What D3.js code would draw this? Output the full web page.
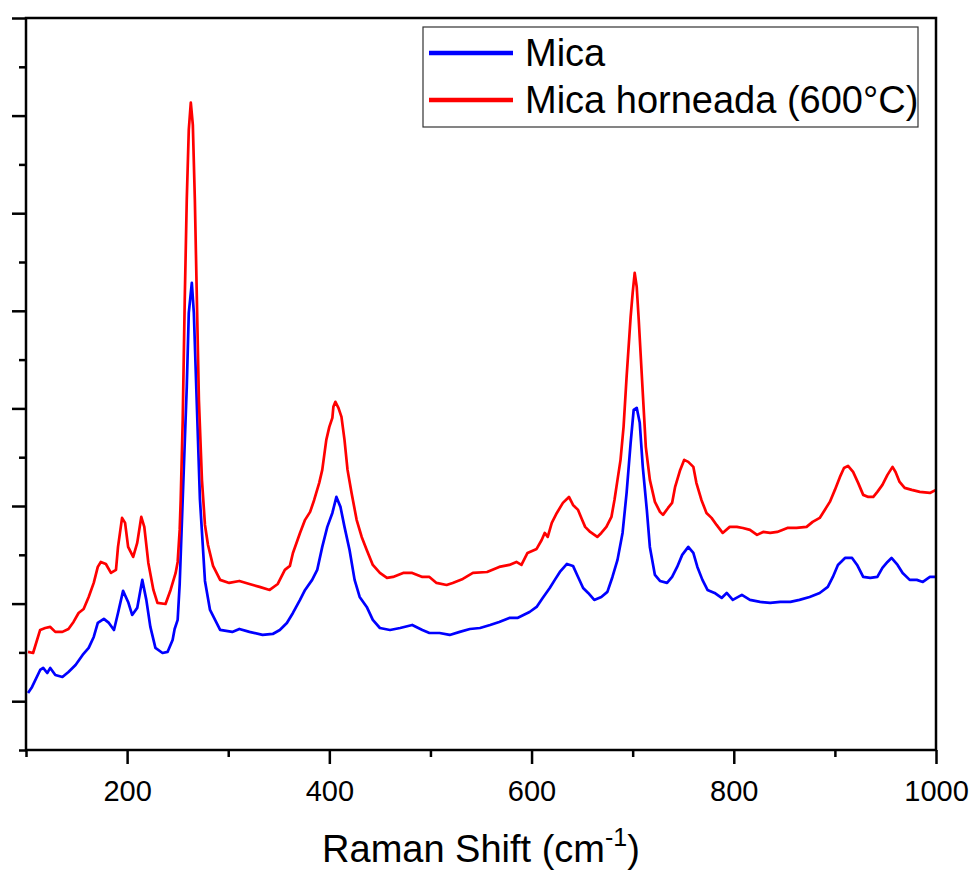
<!DOCTYPE html>
<html>
<head>
<meta charset="utf-8">
<script src="https://cdn.jsdelivr.net/npm/d3@7"></script>
<style>
  body { margin: 0; background: #fff; }
  text { font-family: "Liberation Sans", Arial, sans-serif; }
</style>
</head>
<body>
<div id="chart"></div>
<script>
// Raman spectra (intensity in arbitrary units)
const micaShift = [102,106,114,117,121,124,129,136,142,149,156,162,167,171,177,182,187,191,196,201,205,210,215,219,223,228,235,240,245,247,250,252,255,259,261,264,266,269,272,277,282,292,304,311,321,334,344,351,358,364,371,376,383,388,393,398,403,407,411,415,420,425,430,437,443,450,460,470,482,492,499,509,519,529,539,549,559,568,578,586,598,605,611,618,623,628,635,641,646,651,656,662,669,675,680,685,690,694,698,701,704,707,710,714,717,722,727,734,739,744,749,755,760,764,769,774,781,788,793,799,808,816,826,836,846,856,865,875,885,893,898,903,910,917,922,928,935,942,947,952,956,962,967,974,981,987,994,1000];
const micaIntensity = [84,146,320,341,289,341,269,248,300,371,474,546,658,802,843,802,730,904,1130,1017,884,956,1243,1038,761,546,494,505,628,740,833,1202,2073,3221,3979,4287,3979,3026,2073,1232,935,730,710,740,710,679,689,730,802,904,1038,1140,1243,1345,1581,1786,1929,2093,1991,1786,1550,1243,1068,966,833,750,730,750,781,730,699,699,679,710,740,750,781,812,853,853,914,966,1058,1160,1243,1324,1406,1386,1273,1160,1109,1038,1068,1120,1273,1448,1724,2134,2647,2985,3006,2852,2401,1960,1581,1294,1232,1212,1273,1376,1499,1581,1519,1376,1243,1140,1109,1058,1109,1038,1089,1038,1017,1007,1017,1017,1038,1068,1109,1171,1273,1396,1468,1468,1396,1273,1263,1273,1366,1427,1468,1396,1314,1243,1243,1222,1273,1273];

const bakedShift = [102,107,114,119,124,129,136,142,147,152,157,162,167,171,174,179,184,189,191,195,198,201,206,210,214,217,221,226,230,238,243,248,250,252,253,255,257,259,261,263,265,267,269,271,274,277,280,285,292,301,311,321,331,341,349,356,361,364,371,376,381,385,390,393,397,400,403,404,406,409,412,415,418,422,427,432,437,443,450,457,463,473,482,492,499,506,516,522,532,542,556,568,578,585,590,596,605,610,613,616,620,625,631,637,641,646,650,653,658,665,669,674,679,682,685,688,691,694,698,700,702,704,706,710,713,717,722,727,730,735,739,742,747,751,755,760,763,768,773,778,783,789,796,803,809,816,823,829,836,843,853,862,872,878,885,890,895,900,905,909,913,918,923,928,933,938,942,947,952,957,960,964,969,976,984,994,1000];
const bakedIntensity = [505,494,730,750,761,710,710,740,812,904,945,1068,1212,1376,1427,1406,1314,1345,1581,1878,1827,1581,1478,1622,1888,1786,1417,1140,1007,996,1140,1314,1427,1755,2062,2883,4112,5138,5855,6132,5906,5138,4112,3088,2268,1806,1601,1386,1243,1212,1232,1201,1171,1140,1201,1345,1386,1519,1724,1858,1940,2062,2237,2370,2678,2811,2903,3016,3067,3006,2913,2678,2370,2134,1858,1683,1550,1396,1314,1263,1273,1314,1314,1273,1273,1212,1191,1212,1253,1314,1324,1376,1396,1427,1396,1519,1560,1652,1724,1683,1827,1929,2032,2093,2011,1960,1858,1786,1734,1683,1724,1786,1888,2062,2268,2473,2811,3323,3938,4184,4389,4246,3908,3159,2606,2268,2042,1940,1909,1980,2032,2196,2370,2473,2452,2401,2237,2062,1929,1878,1806,1724,1786,1786,1775,1755,1704,1734,1724,1734,1775,1775,1786,1837,1878,1960,2042,2165,2298,2390,2411,2349,2237,2114,2093,2093,2145,2216,2319,2401,2349,2247,2186,2165,2145,2134,2165];

const xMajorTicks = [200, 400, 600, 800, 1000];
const xMinorTicks = [100, 300, 500, 700, 900];
const yMajorTicks = [0, 1000, 2000, 3000, 4000, 5000, 6000, 7000];
const yMinorTicks = [-500, 500, 1500, 2500, 3500, 4500, 5500, 6500];
const seriesNames = ["Mica", "Mica horneada (600°C)"];
const seriesColors = ["#0000ff", "#ff0000"];

const series = [
  {name: seriesNames[0], color: seriesColors[0], values: micaShift.map((s, i) => ({x: s, y: micaIntensity[i]}))},
  {name: seriesNames[1], color: seriesColors[1], values: bakedShift.map((s, i) => ({x: s, y: bakedIntensity[i]}))}
];

// set the dimensions and margins of the graph
const margin = {top: 18, right: 40, bottom: 124, left: 26},
    width = 976 - margin.left - margin.right,
    height = 874 - margin.top - margin.bottom;

const svg = d3.select("#chart")
  .append("svg")
    .attr("width", 976)
    .attr("height", 874)
  .append("g")
    .attr("transform", `translate(${margin.left},${margin.top})`);

const x = d3.scaleLinear().domain([100, 1000]).range([0, width]);
const y = d3.scaleLinear().domain([-500, 7000]).range([height, 0]);

// spectra
const line = d3.line().x(d => x(d.x)).y(d => y(d.y));
svg.selectAll(".spec")
  .data(series)
  .join("path")
    .attr("class", "spec")
    .attr("fill", "none")
    .attr("stroke", d => d.color)
    .attr("stroke-width", 2.7)
    .attr("stroke-linejoin", "round")
    .attr("d", d => line(d.values));

// axes: major + minor ticks, no y labels
const xAxis = svg.append("g")
  .attr("transform", `translate(0,${height})`)
  .call(d3.axisBottom(x).tickValues(xMajorTicks).tickSize(14).tickPadding(16).tickFormat(d3.format("d")));
xAxis.selectAll("text").attr("font-size", 29).attr("fill", "#000");
svg.append("g")
  .attr("transform", `translate(0,${height})`)
  .call(d3.axisBottom(x).tickValues(xMinorTicks).tickSize(7).tickFormat(""));

svg.append("g")
  .call(d3.axisLeft(y).tickValues(yMajorTicks).tickSize(14).tickFormat(""));
svg.append("g")
  .call(d3.axisLeft(y).tickValues(yMinorTicks).tickSize(7).tickFormat(""));

svg.selectAll(".domain").remove();
svg.selectAll(".tick line").attr("stroke", "#000").attr("stroke-width", 2.5);

// frame
svg.append("rect")
  .attr("width", width)
  .attr("height", height)
  .attr("fill", "none")
  .attr("stroke", "#000")
  .attr("stroke-width", 2.5);

// x title
const title = svg.append("text")
  .attr("x", width / 2)
  .attr("y", 844)
  .attr("text-anchor", "middle")
  .attr("font-size", 38)
  .attr("fill", "#000");
title.append("tspan").text("Raman Shift (cm");
title.append("tspan").attr("font-size", 25).attr("dy", -16).text("-1");
title.append("tspan").attr("dy", 16).text(")");

// legend
const legend = svg.append("g").attr("transform", "translate(397,9)");
legend.append("rect")
  .attr("width", 495)
  .attr("height", 100)
  .attr("fill", "#fff")
  .attr("stroke", "#333")
  .attr("stroke-width", 1.2);
const rows = legend.selectAll(".row")
  .data(series)
  .join("g")
    .attr("transform", (d, i) => `translate(0,${26 + i * 47})`);
rows.append("line")
  .attr("x1", 6).attr("x2", 90)
  .attr("stroke", d => d.color)
  .attr("stroke-width", 4.5);
rows.append("text")
  .attr("x", 102)
  .attr("y", 13)
  .attr("font-size", 38)
  .attr("fill", "#000")
  .text(d => d.name);
</script>
</body>
</html>
